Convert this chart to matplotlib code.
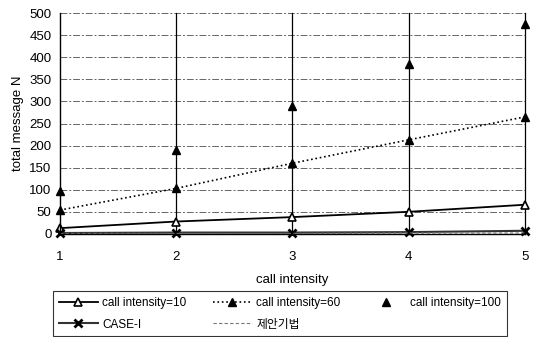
import numpy as np
import matplotlib.pyplot as plt

plt.rcParams['font.family'] = ['Liberation Sans', 'Noto Sans CJK KR', 'DejaVu Sans']

x = [1, 2, 3, 4, 5]
ci10 = [13, 28, 38, 50, 66]
ci60 = [54, 103, 160, 213, 265]
ci100 = [96, 190, 290, 384, 476]
case1 = [2, 3, 3, 4, 7]
proposed = [1, 1, 1, 2, 2]

fig = plt.figure(figsize=(5.45, 3.37), dpi=100)
ax = fig.add_axes([0.110, 0.306, 0.853, 0.655])

# horizontal grid
for yv in range(50, 501, 50):
    ax.axhline(yv, color='#666666', lw=0.7, ls=(0, (7, 2, 2, 2)), zorder=0)
# vertical lines at each category
for xv in x[1:]:
    ax.axvline(xv, color='black', lw=0.9, zorder=1, clip_on=False)

l1, = ax.plot(x, ci10, color='black', lw=1.3, marker='^', mfc='white', mec='black', ms=5.5, mew=1.2,
              label='call intensity=10', clip_on=False)
l2, = ax.plot(x, ci60, color='black', lw=1.2, ls=':', marker='^', ms=6, label='call intensity=60', clip_on=False)
l3, = ax.plot(x, ci100, color='black', ls='none', marker='^', ms=6, label='call intensity=100', clip_on=False)
l4, = ax.plot(x, case1, color='#333333', lw=1.5, marker='x', mec='black', ms=6, mew=2, label='CASE-I', clip_on=False)
l5, = ax.plot(x, proposed, color='#777777', lw=0.8, ls=(0, (3, 2)), label='제안기법')

ax.set_xlim(1, 5)
ax.set_ylim(0, 500)
ax.set_xticks(x)
ax.set_yticks(range(0, 501, 50))
ax.tick_params(axis='y', length=0, labelsize=9.5, pad=6)
ax.tick_params(axis='x', length=0, labelsize=9.5, pad=12)
for s in ['top', 'right']:
    ax.spines[s].set_visible(False)
ax.spines['left'].set_linewidth(1.0)
ax.spines['bottom'].set_linewidth(1.0)
ax.set_xlabel('call intensity', fontsize=9.5, labelpad=8)
ax.set_ylabel('total message N', fontsize=9.5, labelpad=4)

handles = [l1, l4, l2, l5, l3]
leg = fig.legend(handles, [h.get_label() for h in handles], ncol=3, fontsize=8.5,
                 loc='upper left', bbox_to_anchor=(0.097, 0.0, 0.833, 0.136), mode='expand',
                 frameon=True, fancybox=False, edgecolor='black', handlelength=3.3,
                 borderaxespad=0, columnspacing=0.8, handletextpad=0.4, labelspacing=0.8,
                 borderpad=0.5)
leg.get_frame().set_linewidth(0.8)

plt.savefig('out.png', dpi=100)
